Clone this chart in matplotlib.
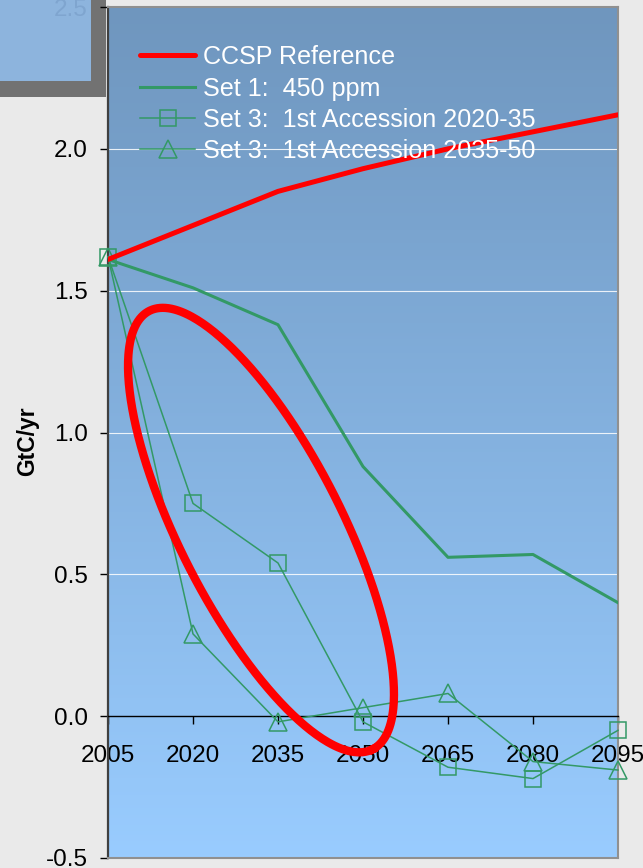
import numpy as np
import matplotlib
matplotlib.use('Agg')
from matplotlib import pyplot as plt
from matplotlib.patches import Rectangle

plt.rcParams['font.family'] = ['Liberation Sans', 'DejaVu Sans']

# data
years = [2005, 2020, 2035, 2050, 2065, 2080, 2095]
ccsp_ref = [1.61, 1.73, 1.85, 1.93, 2.00, 2.06, 2.12]
set1_450 = [1.61, 1.51, 1.38, 0.88, 0.56, 0.57, 0.40]
set3_2020_35 = [1.62, 0.75, 0.54, -0.02, -0.18, -0.22, -0.05]
set3_2035_50 = [1.62, 0.29, -0.02, 0.03, 0.08, -0.16, -0.19]
labels = ['CCSP Reference', 'Set 1:  450 ppm',
          'Set 3:  1st Accession 2020-35', 'Set 3:  1st Accession 2035-50']
yticks = [-0.5, 0.0, 0.5, 1.0, 1.5, 2.0, 2.5]

# highlight ellipse (pixel space): centre, semi axes, angle
ell_center = (2032, 0.656)
ell_a, ell_b, ell_angle = 246, 81, -63

W, H = 643, 868
fig = plt.figure(figsize=(W / 100, H / 100), dpi=100)
fig.patch.set_facecolor('#eaeaea')

# cut-off panel in the top-left corner
fig.patches.append(Rectangle((0, 1 - 97 / H), 106 / W, 97 / H, transform=fig.transFigure,
                             facecolor='#727272', edgecolor='none', zorder=-2))
fig.patches.append(Rectangle((0, 1 - 81 / H), 91 / W, 81 / H, transform=fig.transFigure,
                             facecolor='#8db4dd', edgecolor='none', zorder=-1))

ax = fig.add_axes([108 / W, 10 / H, 510 / W, 851 / H])
ax.patch.set_alpha(0)

# gradient background
grad = np.linspace(0, 1, 256).reshape(-1, 1)
top = np.array([111, 150, 190]) / 255
bot = np.array([153, 204, 255]) / 255
img = bot[None, None, :] * (1 - grad[:, :, None]) + top[None, None, :] * grad[:, :, None]
ax.imshow(img, extent=[0, 1, 0, 1], transform=ax.transAxes, aspect='auto',
          origin='lower', zorder=0)

for v in [0.5, 1.0, 1.5, 2.0]:
    ax.axhline(v, color='white', lw=0.8, alpha=0.85, zorder=1)

green = '#339966'
ax.plot(years, ccsp_ref, color='#ff0000', lw=3.6, label=labels[0], zorder=4,
        solid_capstyle='round')
ax.plot(years, set1_450, color=green, lw=2.2, label=labels[1], zorder=3)
ax.plot(years, set3_2020_35, color=green, lw=1.1, marker='s', ms=11,
        mfc='none', mec=green, mew=1.1, label=labels[2], zorder=3, clip_on=False)
ax.plot(years, set3_2035_50, color=green, lw=1.1, marker='^', ms=12.5,
        mfc='none', mec=green, mew=1.1, label=labels[3], zorder=3, clip_on=False)

ax.set_xlim(2005, 2095)
ax.set_ylim(-0.5, 2.5)

# ellipse drawn in pixel space, converted to data units
px_x = 510 / 90.0
px_y = 851 / 3.0
t = np.linspace(0, 2 * np.pi, 400)
th = np.deg2rad(ell_angle)
dx = ell_a * np.cos(t) * np.cos(th) - ell_b * np.sin(t) * np.sin(th)
dy = ell_a * np.cos(t) * np.sin(th) + ell_b * np.sin(t) * np.cos(th)
ax.plot(ell_center[0] + dx / px_x, ell_center[1] + dy / px_y, color='#ff0000',
        lw=6, zorder=5)

# axes
ax.spines['bottom'].set_position(('data', 0))
ax.spines['bottom'].set_color('black')
ax.spines['bottom'].set_linewidth(1.0)
ax.spines['left'].set_color('#404040')
ax.spines['left'].set_linewidth(1.6)
ax.spines['right'].set_color('#909090')
ax.spines['right'].set_linewidth(1.5)
ax.spines['top'].set_color('#909090')
ax.spines['top'].set_linewidth(1.5)
ax.axhline(-0.5, color='#909090', lw=1.5, clip_on=False, zorder=6)

ax.set_xticks(years)
ax.set_xticklabels([str(y) for y in years])
ax.set_yticks(yticks)
ax.set_yticklabels(['%.1f' % v for v in yticks])
ax.tick_params(axis='x', direction='out', length=6, width=1, pad=15,
               labelsize=17.5, colors='black')
ax.tick_params(axis='y', direction='out', length=6, width=1, pad=8.5,
               labelsize=17.5, colors='black')
ax.get_yticklabels()[-1].set_color('#7fa5cf')
ax.set_ylabel('GtC/yr', fontsize=16.5, fontweight='bold')
ax.yaxis.set_label_coords(-0.135, 0.49)

leg = ax.legend(loc='upper left', bbox_to_anchor=(0.063, 0.955), frameon=False,
                fontsize=18.1, handlelength=2.2, handletextpad=0.3,
                labelspacing=0.29, borderpad=0, borderaxespad=0)
for txt in leg.get_texts():
    txt.set_color('white')

fig.savefig('out.png', dpi=100)
